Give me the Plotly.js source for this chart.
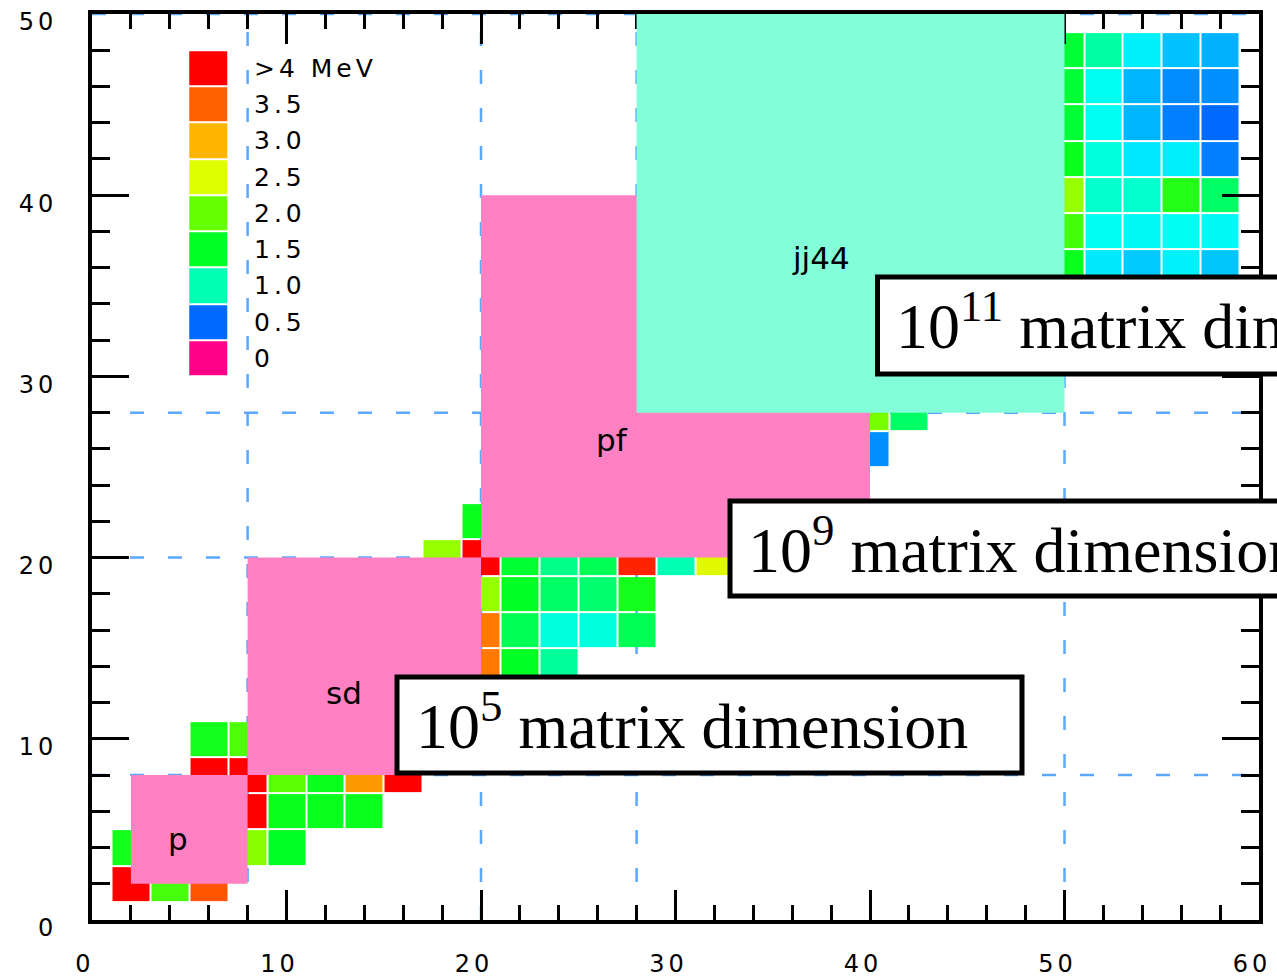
<!DOCTYPE html>
<html>
<head>
<meta charset="utf-8">
<script src="https://cdn.plot.ly/plotly-3.0.1.min.js"></script>
<style>
  html, body { margin: 0; padding: 0; background: #ffffff; overflow: hidden; }
  #chart { width: 1277px; height: 980px; }
  /* wide-set lettering for axis numbers and the energy key */
  .xtick text, .ytick text { letter-spacing: 4px; }
  text.annotation-text[style*="font-size: 25px"] { letter-spacing: 4px; }
</style>
</head>
<body>
<div id="chart"></div>
<script>
// Even-even nuclei: neutron number N, proton number Z, first excitation energy (MeV)
const cellN = [
  2, 4, 6,
  2, 8, 10,
  8, 10, 12, 14,
  6, 8, 10, 12, 14, 16,
  6, 8,
  20, 22, 24,
  20, 22, 24, 26, 28,
  20, 22, 24, 26, 28,
  18, 20, 22, 24, 26, 28, 30, 32,
  20,
  40, 40, 42,
  50, 52, 54, 56, 58,
  50, 52, 54, 56, 58,
  50, 52, 54, 56, 58,
  50, 52, 54, 56, 58,
  50, 52, 54, 56, 58,
  50, 52, 54, 56, 58,
  50, 52, 54, 56, 58
];
const cellZ = [
  2, 2, 2,
  4, 4, 4,
  6, 6, 6, 6,
  8, 8, 8, 8, 8, 8,
  10, 10,
  14, 14, 14,
  16, 16, 16, 16, 16,
  18, 18, 18, 18, 18,
  20, 20, 20, 20, 20, 20, 20, 20,
  22,
  26, 28, 28,
  36, 36, 36, 36, 36,
  38, 38, 38, 38, 38,
  40, 40, 40, 40, 40,
  42, 42, 42, 42, 42,
  44, 44, 44, 44, 44,
  46, 46, 46, 46, 46,
  48, 48, 48, 48, 48
];
const cellMeV = [
  4.2, 1.85, 3.56,
  1.6, 2.14, 1.5,
  4.2, 1.55, 1.55, 1.55,
  4.2, 4.2, 1.95, 1.55, 3.16, 4.2,
  1.6, 1.88,
  3.36, 1.5, 1.09,
  3.36, 1.33, 0.93, 0.93, 1.33,
  2.2, 1.5, 1.27, 1.24, 1.6,
  2.2, 4.2, 1.45, 1.15, 1.33, 3.82, 1.0, 2.55,
  1.55,
  0.59, 2.07, 1.27,
  1.55, 0.81, 0.73, 0.84, 0.72,
  1.83, 0.9, 0.87, 0.9, 0.87,
  2.2, 0.96, 0.96, 1.67, 1.27,
  1.55, 0.93, 0.8, 0.82, 0.55,
  1.44, 0.9, 0.68, 0.55, 0.5,
  1.44, 0.9, 0.68, 0.58, 0.59,
  1.44, 1.07, 0.835, 0.71, 0.67
];

// Energy key
const legendValues = [4.0, 3.5, 3.0, 2.5, 2.0, 1.5, 1.0, 0.5, 0];
const legendLabels = ['>4 MeV', '3.5', '3.0', '2.5', '2.0', '1.5', '1.0', '0.5', '0'];

// Shell-model spaces (same bounds in N and Z)
const spaceNames = ['p', 'sd', 'pf', 'jj44'];
const spaceLow = [2, 8, 20, 28];
const spaceHigh = [8, 20, 40, 50];

// Magic numbers
const magicNumbers = [8, 20, 28, 50];

// Matrix-dimension callouts
const dimensionLabels = [
  '10<sup>5</sup> matrix dimension',
  '10<sup>9</sup> matrix dimension',
  '10<sup>11</sup> matrix dimension'
];

const xTickVals = [0, 10, 20, 30, 40, 50, 60];
const yTickVals = [0, 10, 20, 30, 40, 50];

// ---------------------------------------------------------------
const colorscale = [
  [0.0,    '#ff0088'],
  [0.125,  '#006aff'],
  [0.1625, '#00a8ff'],
  [0.2,    '#00e8ff'],
  [0.225,  '#00fff0'],
  [0.25,   '#00ffb4'],
  [0.375,  '#00ff22'],
  [0.5,    '#66ff00'],
  [0.625,  '#ddff00'],
  [0.75,   '#ffb400'],
  [0.875,  '#ff6000'],
  [1.0,    '#ff0000']
];

// plot area in page pixels
const M = { l: 92, r: 18, t: 14, b: 60 };
const W = 1277, H = 980;
const PW = W - M.l - M.r, PH = H - M.t - M.b;
const px = v => (v - M.l) / PW;          // page x -> paper
const py = v => (H - M.b - v) / PH;      // page y -> paper

// grid of 2x2 bricks centred on even N, Z
const nCols = 29, nRows = 24;
const grid = Array.from({ length: nRows }, () => Array(nCols).fill(null));
cellN.forEach((n, i) => {
  grid[(cellZ[i] - 2) / 2][(n - 2) / 2] = cellMeV[i];
});

const cells = {
  type: 'heatmap',
  x0: 2, dx: 2, y0: 2, dy: 2,
  z: grid,
  zmin: 0, zmax: 4,
  colorscale: colorscale,
  showscale: false,
  xgap: 2, ygap: 2,
  hoverinfo: 'skip'
};

// key squares, stacked downward from Z = 47 at N = 6
const keyTop = 47;
const keyRows = legendValues.slice().reverse().map(v => [v]);
const key = {
  type: 'heatmap',
  x0: 6, dx: 2,
  y0: keyTop - 2 * (legendValues.length - 1), dy: 2,
  z: keyRows,
  zmin: 0, zmax: 4,
  colorscale: colorscale,
  showscale: false,
  xgap: 1, ygap: 2,
  hoverinfo: 'skip'
};

const shapes = [];
// magic-number guide lines
magicNumbers.forEach(m => {
  shapes.push({ type: 'line', layer: 'below', xref: 'x', yref: 'paper', x0: m, x1: m, y0: 0, y1: 1,
    line: { color: '#5aa9ff', width: 2.5, dash: '14px,24px' } });
  shapes.push({ type: 'line', layer: 'below', xref: 'paper', yref: 'y', x0: 0, x1: 1, y0: m, y1: m,
    line: { color: '#5aa9ff', width: 2.5, dash: '14px,24px' } });
});
// model spaces
const spaceFill = { p: '#ff80c3', sd: '#ff80c3', pf: '#ff80c3', jj44: '#82ffd9' };
spaceNames.forEach((s, i) => {
  shapes.push({ type: 'rect', layer: 'above', xref: 'x', yref: 'y',
    x0: spaceLow[i], x1: spaceHigh[i], y0: spaceLow[i], y1: spaceHigh[i],
    fillcolor: spaceFill[s], line: { width: 0 } });
});
// callout frames (page pixels: left, right, top, bottom)
const calloutFrames = [
  [397, 1022, 677, 773],
  [730, 1330, 501, 596],
  [877.5, 1330, 277, 374]
];
calloutFrames.forEach(f => {
  shapes.push({ type: 'rect', layer: 'above', xref: 'paper', yref: 'paper',
    x0: px(f[0]), x1: px(f[1]), y0: py(f[3]), y1: py(f[2]),
    fillcolor: '#ffffff', line: { color: '#000000', width: 5 } });
});

const annotations = [];
// key labels
legendLabels.forEach((t, i) => {
  annotations.push({ xref: 'x', yref: 'y', x: 8.34, y: keyTop - 2 * i, text: t,
    xanchor: 'left', yanchor: 'middle', showarrow: false, borderpad: 0, borderwidth: 0,
    font: { family: 'DejaVu Sans', size: 25, color: '#000000' } });
});
// model-space names
const spaceLabelAt = { p: [4.43, 4.49], sd: [12.94, 12.55], pf: [26.76, 26.51], jj44: [37.49, 36.56] };
spaceNames.forEach(s => {
  annotations.push({ xref: 'x', yref: 'y', x: spaceLabelAt[s][0], y: spaceLabelAt[s][1], text: s,
    xanchor: 'center', yanchor: 'middle', showarrow: false, borderpad: 0, borderwidth: 0,
    font: { family: 'DejaVu Sans', size: 31, color: '#000000' } });
});
// callout texts (page pixels: text origin x, baseline y)
const calloutText = [[416, 748], [748, 572], [896, 348]];
const serifSize = 64;
dimensionLabels.forEach((t, i) => {
  annotations.push({ xref: 'paper', yref: 'paper',
    x: px(calloutText[i][0]), y: py(calloutText[i][1] + 0.216 * serifSize),
    text: t, xanchor: 'left', yanchor: 'bottom', showarrow: false, borderpad: 0, borderwidth: 0,
    font: { family: 'Liberation Serif', size: serifSize, color: '#000000' } });
});

const axisCommon = {
  ticks: 'inside', tickcolor: '#000000', tickwidth: 3,
  showline: true, linecolor: '#000000', linewidth: 4,
  mirror: 'ticks', showgrid: false, zeroline: false,
  tickfont: { family: 'DejaVu Sans', size: 24, color: '#000000' },
  fixedrange: true
};

const layout = {
  width: W, height: H,
  margin: M,
  paper_bgcolor: '#ffffff', plot_bgcolor: '#ffffff',
  showlegend: false,
  xaxis: Object.assign({}, axisCommon, {
    range: [0, 60], tickmode: 'array', tickvals: xTickVals, ticktext: xTickVals.map(String),
    ticklen: 30, ticklabelstandoff: 19, ticklabelshift: -7,
    minor: { dtick: 2, ticks: 'inside', ticklen: 15, tickwidth: 3, tickcolor: '#000000', showgrid: false }
  }),
  yaxis: Object.assign({}, axisCommon, {
    range: [0, 50], tickmode: 'array', tickvals: yTickVals, ticktext: yTickVals.map(String),
    ticklen: 37, ticklabelstandoff: 26, ticklabelshift: 8,
    minor: { dtick: 2, ticks: 'inside', ticklen: 18, tickwidth: 3, tickcolor: '#000000', showgrid: false }
  }),
  shapes: shapes,
  annotations: annotations
};

Plotly.newPlot('chart', [cells, key], layout, { staticPlot: true, displayModeBar: false });
</script>
</body>
</html>
